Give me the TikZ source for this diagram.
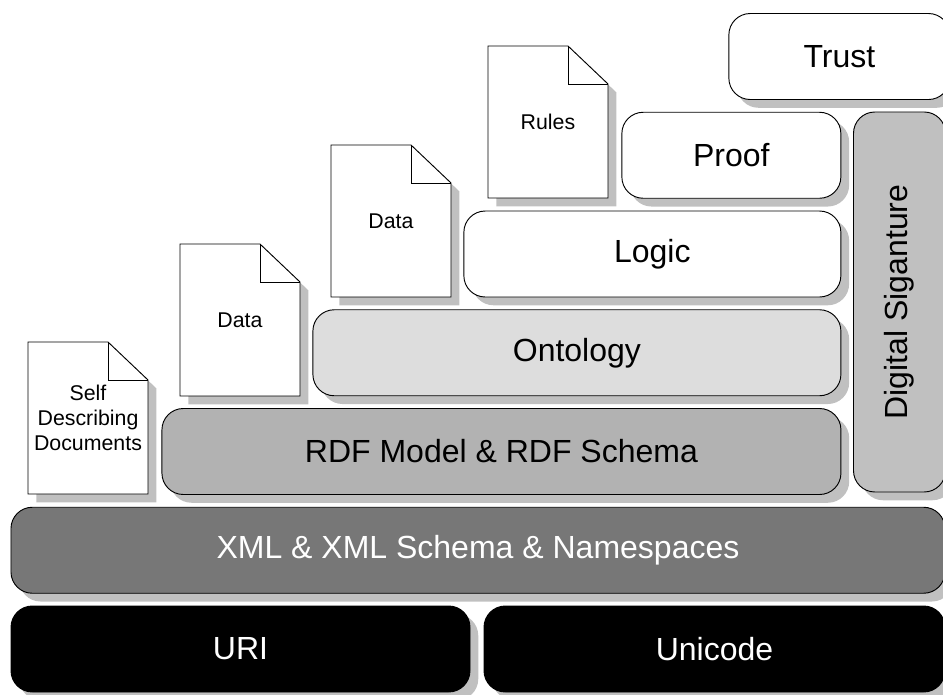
\documentclass[tikz,border=0pt]{standalone}
\usepackage{fontspec}
\setmainfont{Liberation Sans}
\usetikzlibrary{positioning,shadows,backgrounds}
\definecolor{shadowgray}{HTML}{C0C0C0}
\definecolor{rdfgray}{HTML}{B2B2B2}
\definecolor{xmlgray}{HTML}{777777}
\definecolor{ontogray}{HTML}{DDDDDD}
\tikzstyle{layer} = [rectangle, rounded corners=16pt, minimum height=64.5pt, text centered, draw=black, line width=0.7pt, outer sep=0pt, font=\fontsize{24}{28}\selectfont, drop shadow={shadow xshift=6.2pt, shadow yshift=-6.2pt, fill=shadowgray, opacity=1}]
\tikzstyle{whitelayer} = [layer, fill=white]
\tikzstyle{ontolayer} = [layer, fill=ontogray]
\tikzstyle{rdflayer} = [layer, fill=rdfgray]
\tikzstyle{xmllayer} = [layer, fill=xmlgray, text=white]
\tikzstyle{blacklayer} = [layer, fill=black, text=white]
\tikzstyle{signlayer} = [layer, fill=shadowgray, rotate=90, minimum width=285pt, minimum height=69pt]
\tikzstyle{docpage} = [rectangle, minimum width=90pt, minimum height=114pt, outer sep=0pt, align=center, font=\fontsize{16}{18.6}\selectfont]
\tikzstyle{pageshadow} = [fill=shadowgray, transform canvas={xshift=6.2pt, yshift=-6.2pt}]
\tikzstyle{pageline} = [draw=black, fill=white, line width=0.7pt]
\newcommand{\pageoutline}{(\docname.north west) -- ([xshift=-30pt]\docname.north east) -- ([yshift=-28.5pt]\docname.north east) -- (\docname.south east) -- (\docname.south west) -- cycle}
\begin{document}
\begin{tikzpicture}[x=0.75pt, y=-0.75pt, node distance=9.56pt]

		\clip (0,0) rectangle (943,695);

		% Layers
		\node (uri) [blacklayer, minimum width=344.25pt] at (240.5,649) {URI};
		\node (unicode) [blacklayer, minimum width=345.75pt, right=10.5pt of uri] {Unicode};

		\node (xml) [xmllayer, minimum width=700.5pt, above=of uri, xshift=178.1pt] {XML \& XML Schema \& Namespaces};
		\node (rdf) [rdflayer, minimum width=509.25pt, above=of xml, xshift=17.6pt] {RDF Model \& RDF Schema};
		\node (ontology) [ontolayer, minimum width=396pt, above=of rdf, xshift=56.6pt] {Ontology};
		\node (logic) [whitelayer, minimum width=282.75pt, above=of ontology, xshift=56.6pt] {Logic};
		\node (proof) [whitelayer, minimum width=164.25pt, above=of logic, xshift=59.25pt] {Proof};
		\node (trust) [whitelayer, minimum width=165.75pt, above=of proof, xshift=81pt] {Trust};

		\node (signature) [signlayer] at (899.5,302) {Digital Siganture};

		% Documents
		\node (selfdoc) [docpage] at (88,418) {Self\\Describing\\Documents};
		\node (datadoc) [docpage] at (240,320) {Data};
		\node (moredata) [docpage] at (391,221) {Data};
		\node (rules) [docpage] at (548,122) {Rules};

		% Page outlines
		\begin{scope}[on background layer]
			\foreach \docname in {selfdoc,datadoc,moredata,rules} {
				\fill [pageshadow] \pageoutline;
				\path [pageline] \pageoutline;
				\draw [line width=0.7pt] ([xshift=-30pt]\docname.north east) |- ([yshift=-28.5pt]\docname.north east);
			}
		\end{scope}
	\end{tikzpicture}
\end{document}
